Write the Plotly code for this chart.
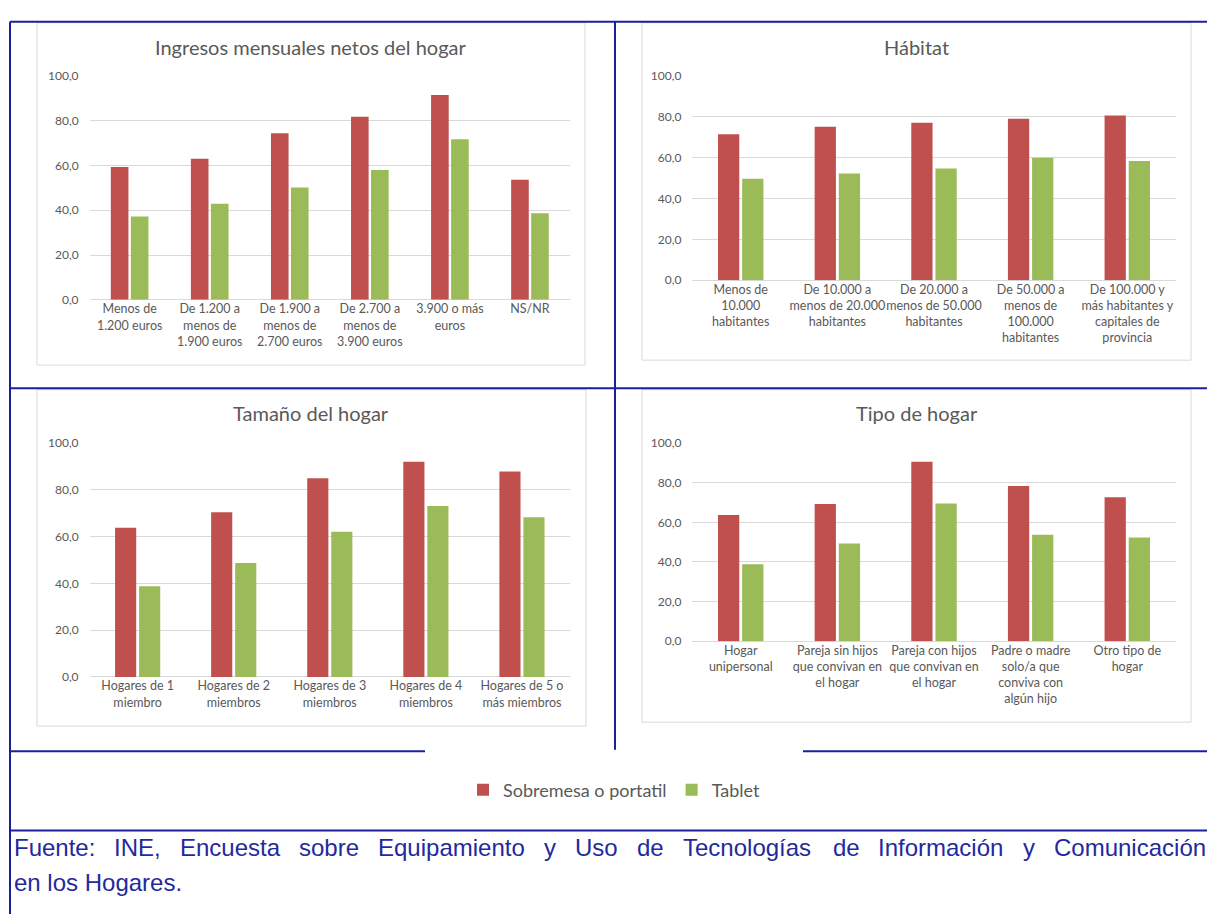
import plotly.graph_objects as go

# ---------------- data ----------------
SERIES = ["Sobremesa o portatil", "Tablet"]
COLORS = ["#C0504D", "#9BBB59"]

ingresos_title = "Ingresos mensuales netos del hogar"
ingresos_cats = ["Menos de<br>1.200 euros", "De 1.200 a<br>menos de<br>1.900 euros",
                 "De 1.900 a<br>menos de<br>2.700 euros", "De 2.700 a<br>menos de<br>3.900 euros",
                 "3.900 o más<br>euros", "NS/NR"]
ingresos_sobremesa = [59.3, 63.0, 74.4, 81.8, 91.5, 53.6]
ingresos_tablet = [37.2, 42.9, 50.2, 58.0, 71.7, 38.7]

habitat_title = "Hábitat"
habitat_cats = ["Menos de<br>10.000<br>habitantes", "De 10.000 a<br>menos de 20.000<br>habitantes",
                "De 20.000 a<br>menos de 50.000<br>habitantes", "De 50.000 a<br>menos de<br>100.000<br>habitantes",
                "De 100.000 y<br>más habitantes y<br>capitales de<br>provincia"]
habitat_sobremesa = [71.4, 75.1, 77.0, 79.0, 80.6]
habitat_tablet = [49.6, 52.2, 54.7, 59.9, 58.4]

tamano_title = "Tamaño del hogar"
tamano_cats = ["Hogares de 1<br>miembro", "Hogares de 2<br>miembros", "Hogares de 3<br>miembros",
               "Hogares de 4<br>miembros", "Hogares de 5 o<br>más miembros"]
tamano_sobremesa = [63.8, 70.4, 85.0, 92.0, 87.9]
tamano_tablet = [38.8, 48.7, 62.1, 73.1, 68.3]

tipo_title = "Tipo de hogar"
tipo_cats = ["Hogar<br>unipersonal", "Pareja sin hijos<br>que convivan en<br>el hogar",
             "Pareja con hijos<br>que convivan en<br>el hogar", "Padre o madre<br>solo/a que<br>conviva con<br>algún hijo",
             "Otro tipo de<br>hogar"]
tipo_sobremesa = [63.7, 69.2, 90.6, 78.3, 72.7]
tipo_tablet = [38.9, 49.3, 69.5, 53.8, 52.3]

y_ticks = [0, 20, 40, 60, 80, 100]

footer_line1 = "Fuente: INE, Encuesta sobre Equipamiento y Uso de Tecnologías de Información y Comunicación"
footer_line2 = "en los Hogares."

# ---------------- layout helpers ----------------
W, H = 1207, 921
def fx(p): return p / W
def fy(p): return 1 - p / H

BLUE = "#1A1F9C"
TEXT_BLUE = "#1F2A9E"
GRAY_TXT = "#595959"
GRID = "#D9D9D9"
CHART_FONT = "Lato"

panels = [
    # title, cats, red, green, plot (x0, x1, ytop, ybot), title xy, frame (x0, y0, x1, y1)
    (ingresos_title, ingresos_cats, ingresos_sobremesa, ingresos_tablet,
     (89.6, 570, 69, 296.7), (310, 40), (37, 15, 585, 363)),
    (habitat_title, habitat_cats, habitat_sobremesa, habitat_tablet,
     (692.4, 1175.6, 69, 276.7), (916, 40), (642, 15, 1191, 358)),
    (tamano_title, tamano_cats, tamano_sobremesa, tamano_tablet,
     (89.6, 570, 442.3, 680), (311, 412), (37, 388, 586, 730)),
    (tipo_title, tipo_cats, tipo_sobremesa, tipo_tablet,
     (692.4, 1175.6, 442.3, 643.7), (917, 412), (642, 388, 1191, 726)),
]

fig = go.Figure()
shapes = []
annotations = []
layout_axes = {}

for i, (title, cats, red, green, plot, tpos, frame) in enumerate(panels):
    n = "" if i == 0 else str(i + 1)
    xa, ya = "x" + n, "y" + n
    for s, (name, vals, col) in enumerate(zip(SERIES, [red, green], COLORS)):
        fig.add_trace(go.Bar(x=cats, y=vals, name=name, marker_color=col,
                             marker_line_width=0, xaxis=xa, yaxis=ya,
                             showlegend=(i == 0), legendgroup=name,
                             hoverinfo="y"))
    x0, x1, yt, yb = plot
    layout_axes["xaxis" + n] = dict(
        domain=[fx(x0), fx(x1)], anchor=ya, type="category",
        showgrid=False, showline=False, ticks="", zeroline=False,
        tickfont=dict(family=CHART_FONT, size=12.5, color=GRAY_TXT),
        tickangle=0, fixedrange=True)
    layout_axes["yaxis" + n] = dict(
        domain=[fy(yb), fy(yt)], anchor=xa, range=[0, 100],
        tickvals=y_ticks, tickformat=".1f", showgrid=True, gridcolor=GRID,
        gridwidth=1, zeroline=True, zerolinecolor=GRID, zerolinewidth=1,
        showline=False, ticks="", ticklabelstandoff=10,
        tickfont=dict(family=CHART_FONT, size=12, color=GRAY_TXT), fixedrange=True)
    # panel frame
    fx0, fy0, fx1, fy1 = frame
    shapes.append(dict(type="rect", xref="paper", yref="paper",
                       x0=fx(fx0), x1=fx(fx1), y0=fy(fy1), y1=fy(fy0),
                       line=dict(color="#D9D9D9", width=1), fillcolor="white", layer="below"))
    annotations.append(dict(text=title, x=fx(tpos[0]), y=fy(tpos[1]), xref="paper", yref="paper",
                            showarrow=False, xanchor="center", yanchor="middle",
                            font=dict(family=CHART_FONT, size=20, color=GRAY_TXT)))

# blue table borders
def hline(y, xa, xb):
    shapes.append(dict(type="line", xref="paper", yref="paper", x0=fx(xa), x1=fx(xb),
                       y0=fy(y), y1=fy(y), line=dict(color=BLUE, width=2), layer="above"))
def vline(x, ya, yb):
    shapes.append(dict(type="line", xref="paper", yref="paper", x0=fx(x), x1=fx(x),
                       y0=fy(ya), y1=fy(yb), line=dict(color=BLUE, width=2), layer="above"))

hline(14, 10, 1207)
vline(10, 14, 921)
vline(615, 14, 754)
hline(386.5, 10, 1207)
hline(755.5, 10, 425)
hline(755.5, 803, 1207)
hline(836, 10, 1207)

# footer text, first line justified across the cell
ARIAL = {"F": 611, "u": 556, "e": 556, "n": 556, "t": 278, ":": 278, "I": 278, "N": 722,
         "E": 667, ",": 278, "c": 500, "s": 500, "a": 556, "o": 556, "b": 556, "r": 333,
         "q": 556, "i": 222, "p": 556, "m": 833, "y": 500, "U": 722, "d": 556, "T": 611,
         "l": 222, "g": 556, "í": 278, "f": 278, "ó": 556, "C": 722, "H": 722, ".": 278}
FOOT_SIZE = 24
left, right = 11.5, 1204
words = footer_line1.split(" ")
widths = [sum(ARIAL.get(ch, 556) for ch in w) / 1000 * FOOT_SIZE for w in words]
gap = (right - left - sum(widths)) / (len(words) - 1)
xpos = left
for w, wd in zip(words, widths):
    annotations.append(dict(text=w, x=fx(xpos), y=fy(853), xref="paper", yref="paper",
                            showarrow=False, xanchor="left", yanchor="middle",
                            font=dict(family="Liberation Sans", size=FOOT_SIZE, color=TEXT_BLUE)))
    xpos += wd + gap
annotations.append(dict(text=footer_line2, x=fx(left), y=fy(889), xref="paper", yref="paper",
                        showarrow=False, xanchor="left", yanchor="middle",
                        font=dict(family="Liberation Sans", size=FOOT_SIZE, color=TEXT_BLUE)))

fig.update_layout(
    width=W, height=H, autosize=False,
    margin=dict(l=0, r=0, t=0, b=0, pad=0),
    paper_bgcolor="white", plot_bgcolor="rgba(0,0,0,0)",
    barmode="group", bargap=0.5, bargroupgap=0.12,
    separators=",.",
    showlegend=True,
    legend=dict(orientation="h", x=fx(614), xanchor="center", y=fy(795), yanchor="middle",
                font=dict(family=CHART_FONT, size=18, color=GRAY_TXT),
                bgcolor="rgba(0,0,0,0)", itemclick=False, itemdoubleclick=False),
    shapes=shapes, annotations=annotations,
    **layout_axes,
)

fig.write_html("out.html", include_plotlyjs=True,
               post_script="document.body.style.margin='0px';document.body.style.overflow='hidden';",
               config={"displayModeBar": False})
